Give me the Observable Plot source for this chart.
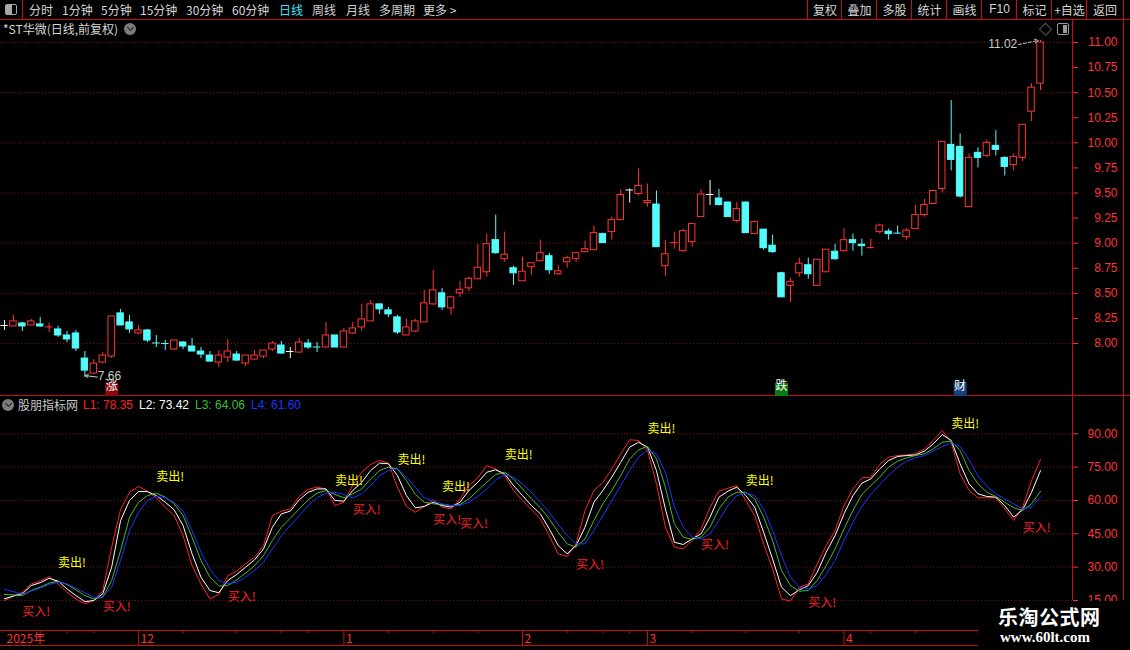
<!DOCTYPE html>
<html><head><meta charset="utf-8">
<script src="https://cdn.jsdelivr.net/npm/d3@7"></script>
<script src="https://cdn.jsdelivr.net/npm/@observablehq/plot@0.6"></script>
<style>
body{margin:0;background:#000;}
#root{position:relative;width:1130px;height:650px;background:#000;overflow:hidden;font-family:"Noto Sans CJK SC","Liberation Sans",sans-serif;}
.tb{position:absolute;top:0;height:19px;line-height:19px;font-size:12px;color:#d6d6d6;white-space:nowrap;}
.btn{position:absolute;top:0;height:19px;line-height:19px;font-size:12px;color:#d6d6d6;text-align:center;border-left:1px solid #c41010;}
.hl{position:absolute;height:1px;background:#c41010;}
.vl{position:absolute;width:1px;background:#c41010;}
.plot{position:absolute;left:0;}
.lbl{position:absolute;font-size:12px;white-space:nowrap;line-height:14px;}
.num{font-family:"Liberation Sans",Arial,sans-serif;}
</style></head><body><div id="root">
  <!-- toolbar -->
  <div style="position:absolute;left:0;top:0;width:22px;height:19px;border-right:1px solid #c41010;"></div>
  <div style="position:absolute;left:5px;top:4px;width:10px;height:9px;border:1px solid #a8a8a8;border-radius:2px;"><div style="width:6px;height:9px;background:#a8a8a8;"></div></div>
  <div class="tb" style="left:29px">分时</div>
  <div class="tb" style="left:62px">1分钟</div>
  <div class="tb" style="left:101px">5分钟</div>
  <div class="tb" style="left:140px">15分钟</div>
  <div class="tb" style="left:186px">30分钟</div>
  <div class="tb" style="left:232px">60分钟</div>
  <div class="tb" style="left:279px;color:#3ee6ff">日线</div>
  <div class="tb" style="left:312px">周线</div>
  <div class="tb" style="left:346px">月线</div>
  <div class="tb" style="left:379px">多周期</div>
  <div class="tb" style="left:423px">更多 &gt;</div>
  <div class="btn" style="left:807px;width:34px">复权</div>
  <div class="btn" style="left:841px;width:35px">叠加</div>
  <div class="btn" style="left:876px;width:35px">多股</div>
  <div class="btn" style="left:911px;width:35px">统计</div>
  <div class="btn" style="left:946px;width:35px">画线</div>
  <div class="btn num" style="left:981px;width:35px">F10</div>
  <div class="btn" style="left:1016px;width:35px">标记</div>
  <div class="btn" style="left:1051px;width:35px">+自选</div>
  <div class="btn" style="left:1086px;width:36px;border-right:1px solid #c41010">返回</div>
  <div class="hl" style="left:0;top:19px;width:1130px"></div>
  <!-- main title -->
  <div class="lbl" style="left:3px;top:22px;color:#d6d6d6">*ST华微(日线,前复权)</div>
  <div style="position:absolute;left:124px;top:23px;width:12px;height:12px;border-radius:6px;background:#7c7c7c;"><div style="position:absolute;left:3.5px;top:2px;width:4px;height:4px;border-right:1.5px solid #222;border-bottom:1.5px solid #222;transform:rotate(45deg);"></div></div>
  <div class="lbl" style="left:1039px;top:22px;color:#9a9a9a;font-size:13px">◇</div>
  <div style="position:absolute;left:1057px;top:23px;width:10px;height:10px;border:1px solid #9a9a9a;border-radius:2px;"><div style="position:absolute;right:1px;top:1px;width:4px;height:8px;background:#9a9a9a;"></div></div>
  <!-- frame lines -->
  <div class="vl" style="left:1072px;top:19px;height:581px"></div>
  <div class="vl" style="left:1123px;top:19px;height:581px"></div>
  <div class="hl" style="left:0;top:395px;width:1130px"></div>
  <div class="hl" style="left:0;top:630px;width:1130px"></div>
  <div class="hl" style="left:0;top:645px;width:1130px"></div>
  <!-- indicator header -->
  <div style="position:absolute;left:2px;top:399px;width:12px;height:12px;border-radius:6px;background:#7c7c7c;"><div style="position:absolute;left:3.5px;top:2px;width:4px;height:4px;border-right:1.5px solid #222;border-bottom:1.5px solid #222;transform:rotate(45deg);"></div></div>
  <div class="lbl" style="left:18px;top:398px;color:#c8c8c8">股朋指标网</div>
  <div id="legend"></div>
  <div id="mainPlot" class="plot" style="top:20px"></div>
  <div id="indPlot" class="plot" style="top:396px"></div>
  <div id="datePlot" class="plot" style="top:630px"></div>
  <!-- watermark -->
  <div style="position:absolute;left:978px;top:601px;width:152px;height:49px;background:#000;">
    <div style="position:absolute;left:20px;top:1px;font-size:20px;font-weight:bold;color:#fff;letter-spacing:0.5px;">乐淘公式网</div>
    <div style="position:absolute;left:22px;top:28px;font-size:15px;font-weight:bold;color:#fff;font-family:'Liberation Serif','DejaVu Serif',serif;">www.60lt.com</div>
  </div>
</div>
<script>
// ---- price data (daily candles) ----
const opens = [8.18,8.17,8.20,8.18,8.19,8.155,8.14,8.08,8.10,7.85,7.70,7.81,7.87,8.30,8.21,8.10,8.13,8.015,8.01,7.94,
8.01,7.97,7.92,7.88,7.81,7.86,7.89,7.80,7.84,7.87,7.94,7.98,7.92,7.91,8.00,7.975,7.96,8.08,7.96,8.10,
8.16,8.22,8.39,8.33,8.26,8.08,8.12,8.21,8.39,8.50,8.35,8.50,8.55,8.64,8.71,9.03,8.84,8.75,8.62,8.76,
8.82,8.87,8.69,8.81,8.84,8.91,8.93,9.09,9.11,9.23,9.53,9.49,9.40,9.385,8.77,8.995,8.92,9.01,9.26,9.485,
9.445,9.405,9.22,9.405,9.09,9.135,8.975,8.70,8.575,8.70,8.78,8.575,8.71,8.915,8.92,9.03,8.985,8.945,9.11,9.115,
9.105,9.06,9.14,9.28,9.39,9.54,9.98,9.96,9.36,9.90,9.87,9.97,9.85,9.78,9.85,10.31,10.59];
const highs = [8.23,8.28,8.21,8.24,8.26,8.20,8.17,8.12,8.13,7.92,7.84,7.91,8.27,8.34,8.28,8.18,8.14,8.08,8.03,8.03,
8.02,8.05,7.96,7.92,7.93,8.04,7.92,7.88,7.93,7.93,8.02,8.02,7.96,8.05,8.04,8.01,8.21,8.08,8.15,8.21,
8.39,8.43,8.39,8.36,8.28,8.24,8.24,8.53,8.73,8.55,8.47,8.62,8.66,8.99,9.09,9.28,9.11,8.77,8.86,8.80,
9.03,8.90,8.78,8.87,8.90,9.02,9.17,9.10,9.26,9.53,9.54,9.74,9.59,9.52,9.03,9.11,9.14,9.19,9.535,9.625,
9.535,9.41,9.405,9.41,9.21,9.135,9.08,8.71,8.65,8.85,8.85,8.835,8.935,8.99,9.145,9.09,9.04,9.04,9.19,9.14,
9.17,9.145,9.375,9.435,9.52,10.01,10.42,10.09,9.89,9.95,10.03,10.12,9.86,9.89,10.18,10.59,11.02];
const lows = [8.13,8.17,8.12,8.18,8.16,8.11,8.06,8.01,7.92,7.66,7.69,7.80,7.85,8.18,8.10,8.09,8.01,7.96,7.93,7.93,
7.94,7.92,7.85,7.81,7.76,7.81,7.82,7.77,7.84,7.85,7.92,7.89,7.85,7.90,7.94,7.91,7.96,7.96,7.96,8.09,
8.12,8.22,8.29,8.26,8.09,8.08,8.11,8.21,8.38,8.33,8.28,8.46,8.52,8.64,8.66,8.89,8.81,8.58,8.62,8.68,
8.82,8.69,8.68,8.75,8.81,8.91,8.93,9.00,9.03,9.23,9.40,9.47,9.36,8.96,8.67,8.94,8.91,8.96,9.26,9.375,
9.37,9.26,9.20,9.10,9.09,8.93,8.90,8.46,8.41,8.66,8.64,8.575,8.71,8.83,8.91,8.92,8.87,8.945,9.09,9.03,
9.09,9.03,9.14,9.26,9.39,9.50,9.72,9.45,9.36,9.75,9.85,9.87,9.67,9.72,9.81,10.21,10.52];
const closes = [8.18,8.22,8.17,8.22,8.17,8.165,8.08,8.04,7.95,7.73,7.80,7.88,8.27,8.18,8.14,8.13,8.03,8.005,8.00,8.03,
7.97,7.92,7.89,7.82,7.88,7.92,7.83,7.88,7.88,7.93,8.00,7.90,7.92,8.01,7.96,7.965,8.08,7.96,8.12,8.15,
8.24,8.39,8.34,8.29,8.11,8.16,8.22,8.40,8.53,8.36,8.46,8.535,8.645,8.755,8.99,8.90,8.885,8.70,8.715,8.80,
8.90,8.73,8.72,8.85,8.90,8.94,9.10,9.00,9.23,9.48,9.53,9.57,9.42,8.96,8.89,9.005,9.12,9.19,9.485,9.485,
9.38,9.26,9.34,9.10,9.21,8.95,8.91,8.46,8.615,8.795,8.69,8.835,8.935,8.84,9.03,9.00,8.97,8.955,9.175,9.09,
9.10,9.125,9.28,9.38,9.52,10.01,9.83,9.465,9.85,9.85,10.00,9.93,9.76,9.86,10.18,10.55,11.00];
const priceTicks = [8,8.25,8.5,8.75,9,9.25,9.5,9.75,10,10.25,10.5,10.75,11];
const priceGrid = [8,8.5,9,9.5,10,10.5,11];
const tagIdx = [12, 87, 107];
const tagText = ["涨", "跌", "财"];
const tagColor = ["#8c0a0a", "#0a7a10", "#17417c"];

// ---- indicator data ----
const L1 = [15,17,18.7,22.5,23.7,25.8,22.5,18.7,15.7,13.5,15,19.5,39,56,63.7,66.3,64.2,61.2,57,53.2,
44.2,30.7,22.5,15.7,17.7,26.2,28.2,31.5,34.5,39.7,53.2,55.2,56.2,61.8,65,66,65.2,57.7,59.2,67,
72.7,76.2,78,76.8,66,57.3,54.7,57.3,60.3,57,56.2,60.7,66.7,70.2,75.7,74.2,71.2,64.5,60,55.8,
51.7,44.2,36,34.8,40.5,55.5,64.5,68.2,74.2,81,87.3,87,82.5,67.5,48,39,38.2,42,47.2,57,
64.2,65.5,66.7,60,53.2,40.5,29.2,15.7,14.7,21,22.5,31.5,39.7,46.5,57.7,65.2,70.2,70.5,76.2,79.5,
80.2,80.5,81,83.2,87,91.5,86.2,72,64.5,61.2,61.2,61.2,56.2,51,57,69,78.35];
const L2 = [15.75,17,18,21.75,23,25,23.7,20.2,17.2,14.5,15,18,30,51,60,64,64,62.2,59.2,55.8,
48.7,36,25.5,19.5,18.5,24,26.7,30,33.3,38.2,48,54,55.2,60.3,63.7,65.2,65.2,60,59.7,64.5,
68.2,73.5,76.8,76.5,71.2,62.2,56.7,57.3,59.2,57.7,57,59.2,64.5,68.2,72.7,73.8,72,66.7,62.2,57.7,
54,47.2,39.7,36,39.7,48,59.2,64.5,70.5,77.2,84,86.2,84,73.5,56.2,41.2,40.2,42.7,45,52.5,
61.5,64.2,66,62.2,57,45.7,33.7,21,17.2,19.8,21.7,27.7,36.7,44.2,54,62.2,67.8,69.7,74.2,78,
79.8,80.2,80.5,82.2,85.5,89.7,87,76.5,67.5,63,61.8,61.5,57.7,52.5,55.8,63.7,73.42];
const L3 = [17.7,17.5,17.2,19.5,21,22.8,23.7,22.2,19.8,17.2,15.75,16.5,24,37.5,52.5,59.2,62.2,63.3,61.5,58.5,
53.2,43.5,33,25.5,21.5,21.7,24.3,27.3,30.7,35.2,42,48,52,56.2,60.3,63.3,64.5,62.7,61.2,63,
65.2,69.7,73.5,75,74.2,69,62.7,59.2,58.5,58.2,57.7,58.2,60.7,64.5,68.2,71.7,72.7,69.7,65.2,60.7,
56.7,51.7,45.7,40.5,39,42.7,51,58.5,64.5,71.2,78.7,82.8,84.3,78.7,66,49.5,43.5,42.5,43.5,48,
56.2,61.5,63.7,63.7,60.7,52.5,42,28.5,21.7,19.2,19.5,24,30.7,38.2,47.2,55.5,62.7,66.7,70.5,75,
77.7,79.2,80.2,81,83.2,86.2,86.7,82.5,73.5,67.5,63.7,61.8,59.2,56.7,55.5,58.5,64.06];
const L4 = [20,19,17.7,19.2,20.5,22.2,23.2,22.5,20.5,18.5,16.5,16.5,21,33,46.5,54.7,60,61.8,61.2,59.2,
55.2,46.5,36.7,29.2,24,22.5,23.2,25.5,28.5,32.2,38.2,44.2,48.7,53.2,57.7,61.2,63.3,63.7,62.7,61.2,
63,66.7,71.2,73.5,74.2,70.5,66,61.2,59.7,58.5,57.7,57.7,59.2,61.8,65.2,69.3,71.7,70.5,67.5,63.7,
59.2,54.7,49.2,44.2,40.5,40.5,46.5,53.2,60,66.7,73.5,79.5,82.8,81,72.7,57,48,43.5,42.7,45,
51,57.7,62.2,63.3,62.2,56.2,46.5,35.2,25.5,21,20.2,21.7,26.7,33,42,50.2,57.3,62.7,67.2,71.2,
75,77.7,79.2,80.2,82.2,84.3,85.8,84.3,78.3,71.2,66.3,63,60.7,58.5,56.2,57,61.6];
const indTicks = [15,30,45,60,75,90];
const sellIdx = [6,17,37,44,49,56,72,83,106];
const sellVal = [31.6,70.3,68.5,78,65.8,80.2,92,68.5,94.2];
const buyIdx = [2,11,25,39,48,51,64,78,90,114];
const buyVal = [9.6,11.8,16.3,55.5,51,49.2,30.7,39.7,13.6,47.4];

// ---- date axis ----
const dateIdx = [0, 15, 38, 58, 72, 94];
const dateLabels = ["2025年", "12", "1", "2", "3", "4"];
const weekIdx = [4,7,10,20,26,31,34,43,48,53,63,67,70,77,83,89,97,102,109];

// ---- styles ----
const RED = "#ff3434", CYAN = "#54fcfc", GRID = "#800f0f", FRAME = "#c41010";
const YEL = "#ffff00", L1C = "#ff2020", L2C = "#ffffff", L3C = "#3cbf3c", L4C = "#1c34ff";
const NUMFONT = "'Liberation Sans', Arial, sans-serif";
const CJK = "'Noto Sans CJK SC', sans-serif";

const N = opens.length;
const candles = d3.range(N).map(i => ({i, o: opens[i], h: highs[i], l: lows[i], c: closes[i]}));
const kind = d => d.c > d.o ? "up" : d.c < d.o ? "down" : "flat";
const colorOf = d => ({up: RED, down: CYAN, flat: "#ffffff"})[kind(d)];
const bodies = candles.filter(d => Math.abs(d.c - d.o) >= 0.012);
const flats = candles.filter(d => Math.abs(d.c - d.o) < 0.012);
const tags = tagIdx.map((i, k) => ({i, t: tagText[k], bg: tagColor[k]}));
let hiK = 0, loK = 0;
candles.forEach((d, k) => { if (d.h > candles[hiK].h) hiK = k; if (d.l < candles[loK].l) loK = k; });
const hi = [candles[hiK]], lo = [candles[loK]];

const xScale = {domain: [0, N - 1], range: [4, 1040], axis: null};
const base = {width: 1130, marginTop: 0, marginBottom: 0, marginLeft: 0, marginRight: 58,
  color: {type: "identity"},
  style: {background: "transparent", fontFamily: NUMFONT, fontSize: "12px", overflow: "visible"}};

const main = Plot.plot({...base, height: 376, x: xScale,
  y: {domain: [8, 11], range: [323, 22], axis: null},
  marks: [
    Plot.ruleY(priceGrid, {stroke: GRID, strokeDasharray: "1,2"}),
    Plot.axisY(priceTicks, {anchor: "right", tickSize: 5, tickFormat: () => "", stroke: RED, label: null}),
    Plot.text(priceTicks, {y: d => d, frameAnchor: "right", textAnchor: "end", dx: 45, text: d => d.toFixed(2), fill: RED, fontSize: 12}),
    Plot.ruleX(candles, {x: "i", y1: "l", y2: "h", stroke: colorOf}),
    Plot.rect(bodies, {x1: d => d.i - 0.36, x2: d => d.i + 0.36, y1: "o", y2: "c",
      fill: d => kind(d) === "up" ? "#000000" : colorOf(d), stroke: colorOf}),
    Plot.ruleY(flats, {y: "c", x1: d => d.i - 0.42, x2: d => d.i + 0.42, stroke: colorOf}),
    Plot.dot(tags, {x: "i", frameAnchor: "bottom", dy: -7, symbol: "square", r: 7.4, fill: "bg"}),
    Plot.text(tags, {x: "i", frameAnchor: "bottom", dy: -7, text: "t", fill: "#ffffff", fontSize: 12, fontFamily: CJK}),
    Plot.arrow(hi, {x1: d => d.i - 2.45, y1: d => d.h - 0.04, x2: d => d.i - 0.25, y2: d => d.h, stroke: "#c8c8c8", strokeDasharray: "3,2", headLength: 6, strokeWidth: 1}),
    Plot.text(hi, {x: d => d.i - 2.6, y: d => d.h - 0.04, text: d => d.h.toFixed(2), textAnchor: "end", fill: "#c8c8c8", fontSize: 12}),
    Plot.arrow(lo, {x1: d => d.i + 1.4, y1: d => d.l + 0.005, x2: d => d.i + 0.05, y2: d => d.l + 0.02, stroke: "#c8c8c8", headLength: 5, strokeWidth: 1}),
    Plot.text(lo, {x: d => d.i + 1.45, y: d => d.l + 0.01, text: d => d.l.toFixed(2), textAnchor: "start", fill: "#c8c8c8", fontSize: 12})
  ]});
document.getElementById("mainPlot").appendChild(main);

const lineData = (arr) => arr.map((v, i) => ({i, v}));
const ind = Plot.plot({...base, height: 234, x: xScale,
  y: {domain: [15, 90], range: [204, 37.3], axis: null},
  marks: [
    Plot.ruleY(indTicks, {stroke: GRID, strokeDasharray: "1,2"}),
    Plot.axisY(indTicks, {anchor: "right", tickSize: 5, tickFormat: () => "", stroke: RED, label: null}),
    Plot.text(indTicks, {y: d => d, frameAnchor: "right", textAnchor: "end", dx: 45, text: d => d.toFixed(2), fill: RED, fontSize: 12}),
    Plot.line(lineData(L1), {x: "i", y: "v", stroke: L1C, strokeWidth: 1}),
    Plot.line(lineData(L2), {x: "i", y: "v", stroke: L2C, strokeWidth: 1}),
    Plot.line(lineData(L3), {x: "i", y: "v", stroke: L3C, strokeWidth: 1}),
    Plot.line(lineData(L4), {x: "i", y: "v", stroke: L4C, strokeWidth: 1}),
    Plot.text(sellIdx, {x: d => d, y: (d, k) => sellVal[k], text: () => "卖出!", fill: YEL, textAnchor: "start", fontSize: 12, fontFamily: CJK}),
    Plot.text(buyIdx, {x: d => d, y: (d, k) => buyVal[k], text: () => "买入!", fill: L1C, textAnchor: "start", fontSize: 12, fontFamily: CJK})
  ]});
document.getElementById("indPlot").appendChild(ind);

const dates = Plot.plot({...base, height: 15, marginRight: 0, x: xScale,
  y: {domain: [0, 1], range: [0, 15], axis: null},
  marks: [
    Plot.ruleX(dateIdx.slice(1), {x: d => d, y1: 0, y2: 1, stroke: FRAME}),
    Plot.ruleX(weekIdx, {x: d => d, y1: 0, y2: 0.22, stroke: FRAME}),
    Plot.text(dateIdx, {x: d => d, y: 0.55, text: (d, k) => dateLabels[k], textAnchor: "start", dx: 2, fill: "#ff3030", fontSize: 12, fontFamily: CJK})
  ]});
document.getElementById("datePlot").appendChild(dates);

// legend values
const leg = document.getElementById("legend");
[["L1", L1, L1C, 83], ["L2", L2, L2C, 139], ["L3", L3, L3C, 195], ["L4", L4, L4C, 251]].forEach(([n, arr, c, x]) => {
  const el = document.createElement("div");
  el.className = "lbl num";
  el.style.left = x + "px"; el.style.top = "398px"; el.style.color = c;
  el.textContent = n + ": " + arr[arr.length - 1].toFixed(2);
  leg.appendChild(el);
});
</script>
</body></html>
